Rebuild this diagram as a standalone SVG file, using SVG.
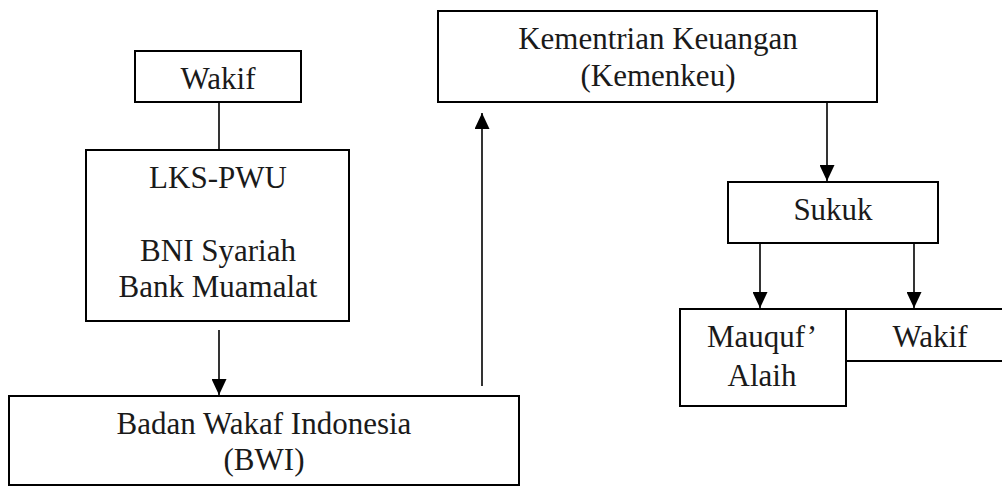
<svg xmlns="http://www.w3.org/2000/svg" width="1002" height="487" viewBox="0 0 1002 487">
<style>
rect.box{fill:#fff;stroke:#000;stroke-width:2}
text{font-family:'Liberation Serif','Times New Roman',serif;font-size:31px;fill:#1a1a1a;text-anchor:middle}
.conn line{stroke:#000;stroke-width:1.6}
</style>
<defs>
<marker id="ah" markerUnits="userSpaceOnUse" markerWidth="16" markerHeight="15" viewBox="0 0 16 15" refX="16" refY="7.5" orient="auto">
<path d="M0,0 L16,7.5 L0,15 Z" fill="#000"/>
</marker>
</defs>
<rect width="1002" height="487" fill="#fff"/>
<g id="connectors" class="conn">
<line x1="219" y1="102" x2="219" y2="150"/>
<line x1="219" y1="330" x2="219" y2="395" marker-end="url(#ah)"/>
<line x1="482" y1="386" x2="482" y2="113" marker-end="url(#ah)"/>
<line x1="827" y1="102" x2="827" y2="181" marker-end="url(#ah)"/>
<line x1="760" y1="243" x2="760" y2="308" marker-end="url(#ah)"/>
<line x1="914" y1="243" x2="914" y2="308" marker-end="url(#ah)"/>
</g>
<g id="wakif-top">
<rect class="box" x="135" y="51" width="166" height="51"/>
<text x="218" y="89">Wakif</text>
</g>
<g id="lks-pwu">
<rect class="box" x="86" y="150" width="263" height="171"/>
<text x="218" y="188">LKS-PWU</text>
<text x="218" y="261">BNI Syariah</text>
<text x="218" y="297">Bank Muamalat</text>
</g>
<g id="bwi">
<rect class="box" x="9" y="396" width="510" height="89"/>
<text x="264" y="434">Badan Wakaf Indonesia</text>
<text x="264" y="470">(BWI)</text>
</g>
<g id="kemenkeu">
<rect class="box" x="438" y="11" width="439" height="91"/>
<text x="658" y="49">Kementrian Keuangan</text>
<text x="658" y="86">(Kemenkeu)</text>
</g>
<g id="sukuk">
<rect class="box" x="728" y="182" width="210" height="61"/>
<text x="833" y="220">Sukuk</text>
</g>
<g id="wakif-right">
<rect class="box" x="846" y="309" width="170" height="52"/>
<text x="930" y="347">Wakif</text>
</g>
<g id="mauquf">
<rect class="box" x="680" y="309" width="166" height="97"/>
<text x="762" y="347">Mauquf’</text>
<text x="762" y="386">Alaih</text>
</g>
</svg>
